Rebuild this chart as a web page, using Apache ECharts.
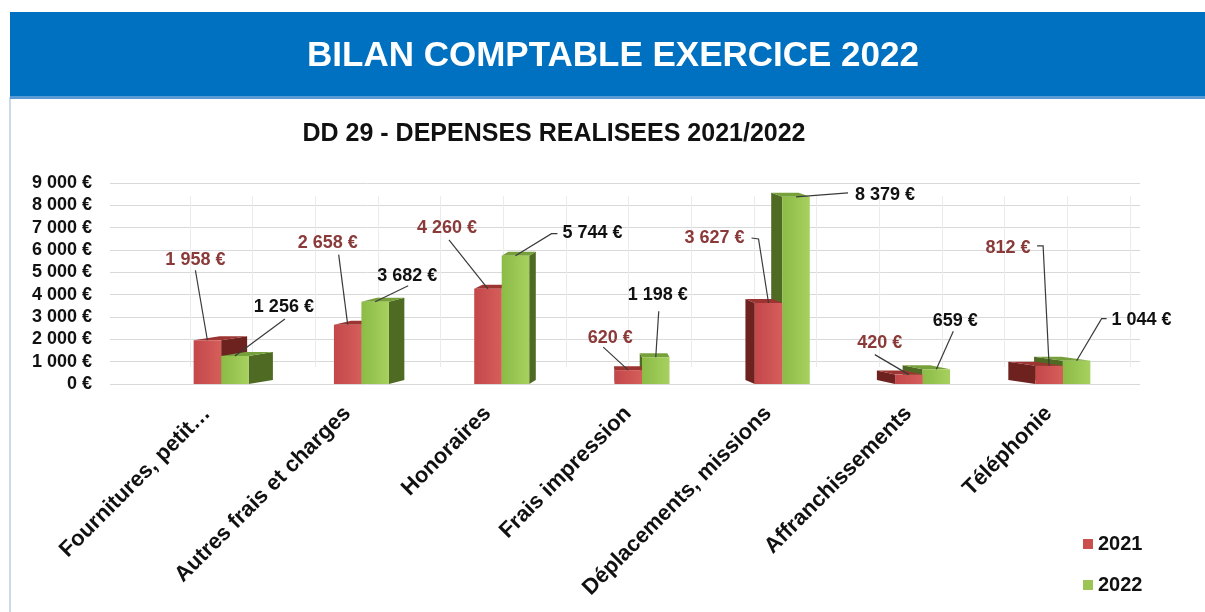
<!DOCTYPE html>
<html>
<head>
<meta charset="utf-8">
<script src="https://cdn.jsdelivr.net/npm/echarts@6/dist/echarts.min.js"></script>
<style>
  html, body { margin: 0; padding: 0; background: #ffffff; }
  #chart { width: 1205px; height: 612px; }
</style>
</head>
<body>
<div id="chart"></div>
<script>
// ---------- DATA ----------
const CATEGORIES = [
  'Fournitures, petit…',
  'Autres frais et charges',
  'Honoraires',
  'Frais impression',
  'Déplacements, missions',
  'Affranchissements',
  'Téléphonie'
];
const VALUES_2021 = [1958, 2658, 4260, 620, 3627, 420, 812];
const VALUES_2022 = [1256, 3682, 5744, 1198, 8379, 659, 1044];
const SERIES_NAMES = ['2021', '2022'];
const Y_MIN = 0, Y_MAX = 9000, Y_STEP = 1000;

// ---------- STYLE / LAYOUT SETTINGS ----------
const FONT = '"Liberation Sans", Arial, sans-serif';
const RED = { front: ['#C4474A', '#D55E5A'], side: '#6E2220', top: '#9C3431', label: '#8B3A3A' };
const GREEN = { front: ['#8CBB46', '#A7D15F'], side: '#4F6A23', top: '#76A03A', label: '#111111' };
const VP_X = 620;      // perspective vanishing x
const DEPTH_K = 0.063; // side depth factor
const DEPTH_DY = -4;   // top face rise
// label placement relative to the bar's top-front centre: label offset + leader points
const LABEL_LAYOUT_2021 = [
  { at: [-12, -80], line: [[-12, -70]] },
  { at: [-20, -82], line: [[-9, -70]] },
  { at: [-41, -61], line: [[-39, -49]] },
  { at: [-18, -32], line: [[-25, -23]] },
  { at: [-54, -65], line: [[-10, -64], [-17, -65]] },
  { at: [-29, -32], line: [[-34, -20]] },
  { at: [-41, -118], line: [[-6, -120], [-12, -120]] }
];
const LABEL_LAYOUT_2022 = [
  { at: [49, -49], line: [[50, -37]] },
  { at: [32, -26], line: [[33, -16]] },
  { at: [77, -23], line: [[36, -22], [42, -22]] },
  { at: [2, -62], line: [[3, -46]] },
  { at: [89, -2], line: [[52, -4]] },
  { at: [19, -48], line: [[17, -38]] },
  { at: [65, -41], line: [[25, -42], [30, -42]] }
];

const fmt = v => String(v).replace(/\B(?=(\d{3})+(?!\d))/g, ' ') + ' €';

function barShapes(xl, xr, yTop, y0, pal) {
  const w = xr - xl;
  const dx = DEPTH_K * (VP_X - (xl + xr) / 2);
  const dy = DEPTH_DY;
  const edge = dx >= 0 ? xr : xl;
  return [
    { type: 'polygon', shape: { points: [[edge, yTop], [edge + dx, yTop + dy], [edge + dx, y0 + dy], [edge, y0]] },
      style: { fill: pal.side } },
    { type: 'polygon', shape: { points: [[xl, yTop], [xr, yTop], [xr + dx, yTop + dy], [xl + dx, yTop + dy]] },
      style: { fill: pal.top } },
    { type: 'rect', shape: { x: xl, y: yTop, width: w, height: y0 - yTop },
      style: { fill: { type: 'linear', x: 0, y: 0, x2: 1, y2: 0,
        colorStops: [{ offset: 0, color: pal.front[0] }, { offset: 1, color: pal.front[1] }] } } }
  ];
}

function labelShapes(anchor, layout, text, color) {
  const pts = [anchor].concat(layout.line.map(p => [anchor[0] + p[0], anchor[1] + p[1]]));
  return [
    { type: 'polyline', z2: 20, shape: { points: pts },
      style: { stroke: '#3a3a3a', lineWidth: 1.2, fill: null } },
    { type: 'text', z2: 21, x: anchor[0] + layout.at[0], y: anchor[1] + layout.at[1],
      style: { text: text, fill: color, font: 'bold 18px ' + FONT, align: 'center', verticalAlign: 'middle' } }
  ];
}

function renderItem(params, api) {
  const i = api.value(0);
  const v1 = api.value(1), v2 = api.value(2);
  const base = api.coord([i, 0]);
  const band = api.size([1, 0])[0];
  const bw = band * 0.196;
  const cx = base[0], y0 = base[1];
  const t1 = api.coord([i, v1])[1];
  const t2 = api.coord([i, v2])[1];
  const red = barShapes(cx - bw, cx, t1, y0, RED);
  const green = barShapes(cx, cx + bw, t2, y0, GREEN);
  const leftOfVp = DEPTH_K * (VP_X - cx) >= 0;
  let children = leftOfVp ? red.concat(green) : green.concat(red);
  children = children.concat(
    labelShapes([cx - bw / 2, t1], LABEL_LAYOUT_2021[i], fmt(v1), RED.label),
    labelShapes([cx + bw / 2, t2], LABEL_LAYOUT_2022[i], fmt(v2), GREEN.label)
  );
  return { type: 'group', children: children };
}

const chart = echarts.init(document.getElementById('chart'), null, { renderer: 'canvas' });

const option = {
  backgroundColor: '#ffffff',
  animation: false,
  graphic: [
    { type: 'rect', z: -10, shape: { x: 10, y: 98, width: 1200, height: 520 },
      style: { fill: '#ffffff', stroke: '#C9DAEA', lineWidth: 2 } },
    { type: 'rect', z: -5, shape: { x: 10, y: 12, width: 1200, height: 86 },
      style: { fill: '#0070C0' } },
    { type: 'rect', z: -4, shape: { x: 10, y: 96, width: 1200, height: 3 },
      style: { fill: '#5B9BD5' } },
    { type: 'text', x: 613, y: 56,
      style: { text: 'BILAN COMPTABLE EXERCICE 2022', fill: '#ffffff', font: 'bold 35px ' + FONT,
        align: 'center', verticalAlign: 'middle' } },
    { type: 'text', x: 554, y: 134,
      style: { text: 'DD 29 - DEPENSES REALISEES 2021/2022', fill: '#111111', font: 'bold 25px ' + FONT,
        align: 'center', verticalAlign: 'middle' } }
  ],
  legend: {
    data: SERIES_NAMES,
    orient: 'vertical',
    left: 1078,
    top: 529,
    itemWidth: 10,
    itemHeight: 10,
    itemGap: 21,
    icon: 'rect',
    textStyle: { fontSize: 20, fontWeight: 'bold', color: '#111', fontFamily: FONT, lineHeight: 20 }
  },
  grid: [
    { left: 110, right: 65, top: 183, bottom: 228 },   // horizontal gridlines + y labels
    { left: 151, right: 72, top: 183, bottom: 228 },   // bars
    { left: 190, right: 75, top: 196, bottom: 245 }    // back wall vertical lines
  ],
  xAxis: [
    { gridIndex: 0, type: 'value', min: 0, max: 1, show: false },
    { gridIndex: 1, type: 'category', data: CATEGORIES,
      axisLine: { show: false }, axisTick: { show: false },
      axisLabel: { rotate: 45, margin: 12, interval: 0, color: '#111', fontSize: 22,
        fontWeight: 'bold', fontFamily: FONT, padding: [0, 20, 17, 0] } },
    { gridIndex: 2, type: 'value', min: 0, max: 15, interval: 1,
      axisLine: { show: false }, axisTick: { show: false }, axisLabel: { show: false },
      splitLine: { show: true, lineStyle: { color: '#EBEBEB', width: 1 } } }
  ],
  yAxis: [
    { gridIndex: 0, type: 'value', min: Y_MIN, max: Y_MAX, interval: Y_STEP,
      axisLine: { show: false }, axisTick: { show: false },
      axisLabel: { formatter: v => fmt(v), margin: 18, color: '#111', fontSize: 18,
        fontWeight: 'bold', fontFamily: FONT },
      splitLine: { show: true, lineStyle: { color: '#D9D9D9', width: 1 } } },
    { gridIndex: 1, type: 'value', min: Y_MIN, max: Y_MAX, interval: Y_STEP, show: false,
      splitLine: { show: false } },
    { gridIndex: 2, type: 'value', min: 0, max: 1, show: false, splitLine: { show: false } }
  ],
  series: [
    { name: SERIES_NAMES[0], type: 'bar', xAxisIndex: 1, yAxisIndex: 1, data: [],
      itemStyle: { color: '#C9504D' } },
    { name: SERIES_NAMES[1], type: 'bar', xAxisIndex: 1, yAxisIndex: 1, data: [],
      itemStyle: { color: '#9BC454' } },
    { type: 'custom', xAxisIndex: 1, yAxisIndex: 1, renderItem: renderItem,
      encode: { x: 0, y: [1, 2] },
      data: CATEGORIES.map((c, i) => [i, VALUES_2021[i], VALUES_2022[i]]),
      z: 5 }
  ]
};
chart.setOption(option);
</script>
</body>
</html>
